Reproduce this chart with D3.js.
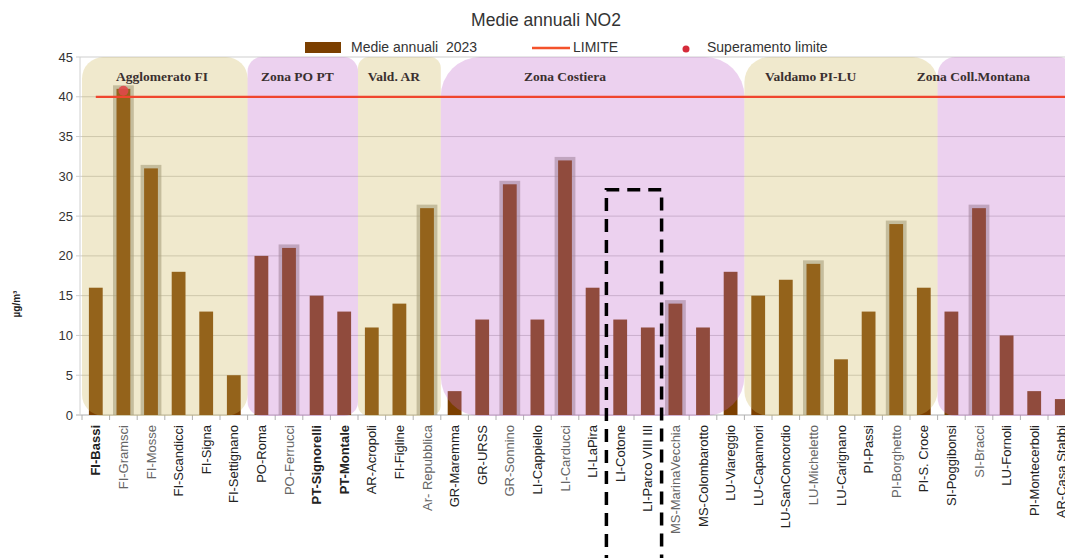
<!DOCTYPE html>
<html>
<head>
<meta charset="utf-8">
<script src="https://cdn.jsdelivr.net/npm/d3@7"></script>
<style>
  body { margin: 0; background: #fff; }
  svg { display: block; font-family: "Liberation Sans", Arial, sans-serif; }
</style>
</head>
<body>
<svg id="myGraph" width="1065" height="558"></svg>
<script>
var svgWidth = 1065;
var svgHeight = 558;

// stazioni e medie annuali NO2 2023
var stations = [
  'FI-Bassi', 'FI-Gramsci', 'FI-Mosse', 'FI-Scandicci', 'FI-Signa', 'FI-Settignano',
  'PO-Roma', 'PO-Ferrucci', 'PT-Signorelli', 'PT-Montale',
  'AR-Acropoli', 'FI-Figline', 'Ar- Repubblica',
  'GR-Maremma', 'GR-URSS', 'GR-Sonnino', 'LI-Cappiello', 'LI-Carducci', 'LI-LaPira',
  'LI-Cotone', 'LI-Parco VIII III', 'MS-MarinaVecchia', 'MS-Colombarotto', 'LU-Viareggio',
  'LU-Capannori', 'LU-SanConcordio', 'LU-Micheletto', 'LU-Carignano', 'PI-Passi',
  'PI-Borghetto', 'PI-S. Croce',
  'SI-Poggibonsi', 'SI-Bracci', 'LU-Fornoli', 'PI-Montecerboli', 'AR-Casa Stabbi'
];
var values = [
  16, 41, 31, 18, 13, 5,
  20, 21, 15, 13,
  11, 14, 26,
  3, 12, 29, 12, 32, 16,
  12, 11, 14, 11, 18,
  15, 17, 19, 7, 13,
  24, 16,
  13, 26, 10, 3, 2
];
// stazioni di traffico (barre evidenziate)
var haloStations = ['FI-Gramsci', 'FI-Mosse', 'PO-Ferrucci', 'Ar- Repubblica', 'GR-Sonnino',
  'LI-Carducci', 'MS-MarinaVecchia', 'LU-Micheletto', 'PI-Borghetto', 'SI-Bracci'];
var boldStations = ['FI-Bassi', 'PT-Signorelli', 'PT-Montale'];

// zone
var zoneNames = ['Agglomerato FI', 'Zona PO PT', 'Vald. AR', 'Zona Costiera', 'Valdamo PI-LU', 'Zona Coll.Montana'];
var zoneFirst = ['FI-Bassi', 'PO-Roma', 'AR-Acropoli', 'GR-Maremma', 'LU-Capannori', 'SI-Poggibonsi'];
var zoneLast = ['FI-Settignano', 'PT-Montale', 'Ar- Repubblica', 'LU-Viareggio', 'PI-S. Croce', 'AR-Casa Stabbi'];
var zoneKind = ['beige', 'pink', 'beige', 'pink', 'beige', 'pink'];
var zoneLabelAt = [2.9, 7.8, 11.3, 17.5, 26.4, 32.3]; // in unità di categoria

var limite = 40;
var overStations = ['FI-Gramsci'];
var overValues = [41];
var boxedStations = ['LI-Cotone', 'LI-Parco VIII III'];
var boxTop = 28.3;
var yTicks = [0, 5, 10, 15, 20, 25, 30, 35, 40, 45];

var plotLeft = 82;
var bandStep = 27.6;

(function() {
  var svg = d3.select('#myGraph');

  var x = d3.scaleBand()
    .domain(stations)
    .range([plotLeft, plotLeft + bandStep * stations.length])
    .paddingInner(0.5)
    .paddingOuter(0.25);
  var xPos = d3.scaleLinear()
    .domain([0, stations.length])
    .range([plotLeft, plotLeft + bandStep * stations.length]);
  var y = d3.scaleLinear()
    .domain([0, 45])
    .range([415, 57]);

  var zoneFill = { beige: 'rgba(204,181,90,0.30)', pink: 'rgba(193,104,203,0.30)' };

  // titolo
  svg.append('text')
    .attr('x', 546).attr('y', 26)
    .attr('text-anchor', 'middle')
    .style('font-size', '17.5px')
    .style('fill', '#333')
    .text('Medie annuali NO2');

  // legenda
  var lg = svg.append('g').style('font-size', '14px').style('fill', '#333');
  lg.append('rect').attr('x', 305).attr('y', 42).attr('width', 36).attr('height', 11).style('fill', '#7b3f00');
  lg.append('text').attr('x', 351).attr('y', 52).text('Medie annuali\u00a0 2023');
  lg.append('line').attr('x1', 532).attr('x2', 570).attr('y1', 48).attr('y2', 48)
    .style('stroke', '#f4522b').style('stroke-width', 2.5);
  lg.append('text').attr('x', 573).attr('y', 52).text('LIMITE');
  lg.append('circle').attr('cx', 686).attr('cy', 49).attr('r', 3.5).style('fill', '#d52b3a');
  lg.append('text').attr('x', 707).attr('y', 52).text('Superamento limite');

  // griglia e asse y
  svg.append('g').selectAll('line')
    .data(yTicks)
    .enter()
    .append('line')
    .attr('x1', plotLeft - 6).attr('x2', svgWidth)
    .attr('y1', function(d) { return y(d); })
    .attr('y2', function(d) { return y(d); })
    .style('stroke', function(d) { return d === 0 ? '#b0b0b0' : '#cfcfcf'; })
    .style('stroke-width', 1);

  svg.append('line')
    .attr('x1', plotLeft - 2).attr('x2', plotLeft - 2)
    .attr('y1', y(45)).attr('y2', y(0))
    .style('stroke', '#d0d0d0');

  svg.append('g').selectAll('text')
    .data(yTicks)
    .enter()
    .append('text')
    .attr('x', plotLeft - 9)
    .attr('y', function(d) { return y(d); })
    .attr('dy', '0.35em')
    .attr('text-anchor', 'end')
    .style('font-size', '13px')
    .style('fill', '#333')
    .text(function(d) { return d; });

  svg.append('text')
    .attr('transform', 'translate(20,304) rotate(-90)')
    .attr('text-anchor', 'middle')
    .style('font-size', '10px')
    .style('font-weight', 'bold')
    .style('fill', '#222')
    .text('µg/m³');

  // tacche asse x
  svg.append('g').selectAll('line')
    .data(d3.range(stations.length + 1))
    .enter()
    .append('line')
    .attr('x1', function(d) { return xPos(d); })
    .attr('x2', function(d) { return xPos(d); })
    .attr('y1', y(0)).attr('y2', y(0) + 5)
    .style('stroke', '#b0b0b0');

  // aloni stazioni di traffico
  svg.append('g').selectAll('rect')
    .data(stations.filter(function(s) { return haloStations.indexOf(s) >= 0; }))
    .enter()
    .append('rect')
    .attr('x', function(d) { return x(d) - 3.5; })
    .attr('width', x.bandwidth() + 7)
    .attr('y', function(d) { return y(values[stations.indexOf(d)]) - 3.5; })
    .attr('height', function(d) { return y(0) - y(values[stations.indexOf(d)]) + 3.5; })
    .style('fill', '#9a968c')
    .style('opacity', 0.6);

  // barre
  svg.append('g').selectAll('rect')
    .data(values)
    .enter()
    .append('rect')
    .attr('x', function(d, i) { return x(stations[i]); })
    .attr('width', x.bandwidth())
    .attr('y', function(d) { return y(d); })
    .attr('height', function(d) { return y(0) - y(d); })
    .style('fill', '#7b3f00');

  // zone (sovrapposte, semitrasparenti)
  var zones = svg.append('g').selectAll('g')
    .data(zoneNames)
    .enter()
    .append('g');

  zones.append('rect')
    .attr('x', function(d, i) { return xPos(stations.indexOf(zoneFirst[i])); })
    .attr('width', function(d, i) {
      return xPos(stations.indexOf(zoneLast[i]) + 1) - xPos(stations.indexOf(zoneFirst[i]));
    })
    .attr('y', y(45))
    .attr('height', y(0) - y(45) + 1)
    .attr('rx', function(d, i) {
      var w = xPos(stations.indexOf(zoneLast[i]) + 1) - xPos(stations.indexOf(zoneFirst[i]));
      return w * 0.13;
    })
    .style('fill', function(d, i) { return zoneFill[zoneKind[i]]; });

  zones.append('text')
    .attr('x', function(d, i) { return xPos(zoneLabelAt[i]); })
    .attr('y', 81)
    .attr('text-anchor', 'middle')
    .style('font-family', '"Liberation Serif", "DejaVu Serif", serif')
    .style('font-size', '13.5px')
    .style('font-weight', 'bold')
    .style('fill', '#3a3030')
    .text(function(d) { return d; });

  // linea limite
  svg.append('line')
    .attr('x1', x(stations[0]) + x.bandwidth() / 2)
    .attr('x2', svgWidth)
    .attr('y1', y(limite)).attr('y2', y(limite))
    .style('stroke', '#f0462e')
    .style('stroke-width', 2.2);

  // superamento limite
  svg.append('g').selectAll('circle')
    .data(overValues)
    .enter()
    .append('circle')
    .attr('cx', function(d, i) { return x(overStations[i]) + x.bandwidth() / 2; })
    .attr('cy', function(d) { return y(d) + 2; })
    .attr('r', 5)
    .style('fill', '#e0484a')
    .style('opacity', 0.9);

  // etichette asse x
  svg.append('g').selectAll('text')
    .data(stations)
    .enter()
    .append('text')
    .attr('transform', function(d) {
      return 'translate(' + (x(d) + x.bandwidth() / 2) + ',' + (y(0) + 10) + ') rotate(-90)';
    })
    .attr('dy', '0.35em')
    .attr('text-anchor', 'end')
    .style('font-size', '13px')
    .style('font-weight', function(d) { return boldStations.indexOf(d) >= 0 ? 'bold' : 'normal'; })
    .style('fill', function(d) { return haloStations.indexOf(d) >= 0 ? '#666' : '#222'; })
    .text(function(d) { return d; });

  // riquadro tratteggiato
  var bx0 = xPos(stations.indexOf(boxedStations[0]));
  var bx1 = xPos(stations.indexOf(boxedStations[boxedStations.length - 1]) + 1);
  svg.append('path')
    .attr('d', 'M' + bx0 + ',' + (svgHeight + 10) + 'V' + y(boxTop) + 'H' + bx1 + 'V' + (svgHeight + 10))
    .style('fill', 'none')
    .style('stroke', '#000')
    .style('stroke-width', 3.5)
    .style('stroke-dasharray', '13,8');
}());
</script>
</body>
</html>
